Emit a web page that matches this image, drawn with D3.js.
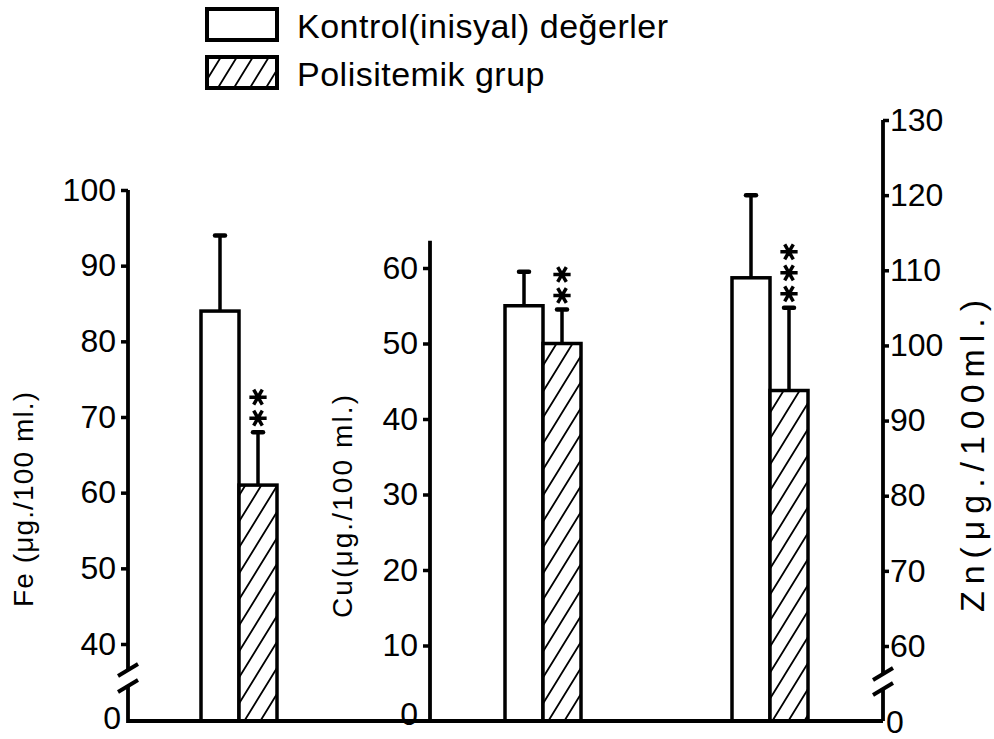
<!DOCTYPE html>
<html>
<head>
<meta charset="utf-8">
<script src="https://cdn.jsdelivr.net/npm/d3@7"></script>
<style>
  body { margin: 0; background: #fff; }
  svg { display: block; font-family: "Liberation Sans", Arial, sans-serif; }
</style>
</head>
<body>
<svg id="chart"></svg>
<script>
// values (means and top of the SD whisker)
const minerals = ["Fe", "Cu", "Zn"];
const kontrolMeans = [84, 55, 109];
const kontrolUpper = [94, 59.5, 120];
const polisitemikMeans = [61, 50, 94];
const polisitemikUpper = [68, 54.5, 105];
const significance = ["**", "**", "***"];
const seriesNames = ["Kontrol(inisyal) değerler", "Polisitemik grup"];
const feTicks = [40, 50, 60, 70, 80, 90, 100];
const cuTicks = [10, 20, 30, 40, 50, 60];
const znTicks = [60, 70, 80, 90, 100, 110, 120, 130];
const axisTitles = ["Fe (μg./100 ml.)", "Cu(μg./100 ml.)", "Zn(μg./100ml.)"];

const width = 994;
const height = 739;
const baseY = 721;

const svg = d3.select("#chart").attr("width", width).attr("height", height);

// each mineral has its own y axis; Fe and Zn are broken above zero
const yScales = {
  Fe: d3.scaleLinear().domain([0, 40, 100]).range([baseY, 644, 190]),
  Cu: d3.scaleLinear().domain([0, 60]).range([baseY, 268]),
  Zn: d3.scaleLinear().domain([0, 60, 130]).range([baseY, 646, 120]),
};
const axisX = { Fe: 128, Cu: 430, Zn: 883 };
const groupX = d3.scaleOrdinal().domain(minerals).range([239, 543, 770]);
const seriesX = d3
  .scaleBand()
  .domain(["kontrol", "polisitemik"])
  .range([-38, 38]);

const rows = [];
minerals.forEach((m, i) => {
  rows.push({ mineral: m, series: "kontrol", mean: kontrolMeans[i], upper: kontrolUpper[i], stars: "" });
  rows.push({ mineral: m, series: "polisitemik", mean: polisitemikMeans[i], upper: polisitemikUpper[i], stars: significance[i] });
});

// hatch pattern
const defs = svg.append("defs");
const hatch = defs
  .append("pattern")
  .attr("id", "hatch")
  .attr("patternUnits", "userSpaceOnUse")
  .attr("width", 16)
  .attr("height", 26);
hatch.append("rect").attr("width", 16).attr("height", 26).attr("fill", "#fff");
hatch
  .append("path")
  .attr("d", "M-2,3.25L2,-3.25M-2,29.25L18,-3.25M14,29.25L18,22.75")
  .attr("stroke", "#000")
  .attr("stroke-width", 1.8);

// legend
const legend = svg.append("g");
legend
  .selectAll("rect")
  .data(seriesNames)
  .join("rect")
  .attr("x", 207)
  .attr("y", (d, i) => 9 + i * 48)
  .attr("width", 70)
  .attr("height", 31)
  .attr("fill", (d, i) => (i === 0 ? "#fff" : "url(#hatch)"))
  .attr("stroke", "#000")
  .attr("stroke-width", 4);
legend
  .selectAll("text")
  .data(seriesNames)
  .join("text")
  .attr("x", 297)
  .attr("y", (d, i) => 38 + i * 48)
  .attr("font-size", 34)
  .attr("letter-spacing", 0.5)
  .text((d) => d);

// bars
const bars = svg.append("g");
const barX = (d) => groupX(d.mineral) + seriesX(d.series);
const barY = (d) => yScales[d.mineral](d.mean);

bars
  .selectAll("line.err")
  .data(rows)
  .join("line")
  .attr("class", "err")
  .attr("x1", (d) => barX(d) + seriesX.bandwidth() / 2)
  .attr("x2", (d) => barX(d) + seriesX.bandwidth() / 2)
  .attr("y1", barY)
  .attr("y2", (d) => yScales[d.mineral](d.upper))
  .attr("stroke", "#000")
  .attr("stroke-width", 3.5);

bars
  .selectAll("line.cap")
  .data(rows)
  .join("line")
  .attr("class", "cap")
  .attr("x1", (d) => barX(d) + seriesX.bandwidth() / 2 - 5)
  .attr("x2", (d) => barX(d) + seriesX.bandwidth() / 2 + 5)
  .attr("y1", (d) => yScales[d.mineral](d.upper))
  .attr("y2", (d) => yScales[d.mineral](d.upper))
  .attr("stroke", "#000")
  .attr("stroke-width", 4.5)
  .attr("stroke-linecap", "round");

bars
  .selectAll("rect")
  .data(rows)
  .join("rect")
  .attr("x", barX)
  .attr("y", barY)
  .attr("width", seriesX.bandwidth())
  .attr("height", (d) => baseY - barY(d))
  .attr("fill", (d) => (d.series === "kontrol" ? "#fff" : "url(#hatch)"))
  .attr("stroke", "#000")
  .attr("stroke-width", 3.5);

// significance asterisks above the whisker
const asterisk = d3.symbol(d3.symbolAsterisk, 210);
const starData = rows.flatMap((d) =>
  d3.range(d.stars.length).map((k) => ({ row: d, k }))
);
bars
  .selectAll("path.star")
  .data(starData)
  .join("path")
  .attr("class", "star")
  .attr("d", asterisk)
  .attr(
    "transform",
    (s) =>
      `translate(${barX(s.row) + seriesX.bandwidth() / 2},${
        yScales[s.row.mineral](s.row.upper) - 14 - s.k * 21
      }) rotate(90)`
  )
  .attr("fill", "none")
  .attr("stroke", "#000")
  .attr("stroke-width", 3.5);

// axes
const styleAxis = (g) => {
  g.select(".domain").remove();
  g.selectAll(".tick line").attr("stroke", "#000").attr("stroke-width", 3.5);
  g.selectAll(".tick text").attr("fill", "#000").attr("font-size", 32);
  g.attr("font-family", null);
};

svg
  .append("g")
  .attr("transform", `translate(${axisX.Fe},0)`)
  .call(d3.axisLeft(yScales.Fe).tickValues(feTicks).tickSize(7).tickPadding(5))
  .call(styleAxis);
svg
  .append("g")
  .attr("transform", `translate(${axisX.Cu},0)`)
  .call(d3.axisLeft(yScales.Cu).tickValues(cuTicks).tickSize(7).tickPadding(5))
  .call(styleAxis);
svg
  .append("g")
  .attr("transform", `translate(${axisX.Zn},0)`)
  .call(d3.axisRight(yScales.Zn).tickValues(znTicks).tickSize(6).tickPadding(1))
  .call(styleAxis);

// axis lines with the breaks drawn by hand
const lines = svg
  .append("g")
  .attr("fill", "none")
  .attr("stroke", "#000")
  .attr("stroke-width", 3.8);
lines.append("path").attr("d", `M${axisX.Fe},${yScales.Fe(100)}V${baseY - 50}M${axisX.Fe},${baseY - 34}V${baseY}H${axisX.Zn}`);
lines.append("path").attr("d", `M${axisX.Cu},${yScales.Cu(63.6)}V${baseY}`);
lines.append("path").attr("d", `M${axisX.Zn},${yScales.Zn(130)}V${baseY - 47}M${axisX.Zn},${baseY - 31}V${baseY}`);

const breakMarks = [
  [axisX.Fe, baseY - 51],
  [axisX.Fe, baseY - 35],
  [axisX.Zn, baseY - 47],
  [axisX.Zn, baseY - 32],
];
lines
  .selectAll("line")
  .data(breakMarks)
  .join("line")
  .attr("x1", (d) => d[0] - 10)
  .attr("y1", (d) => d[1] + 6)
  .attr("x2", (d) => d[0] + 10)
  .attr("y2", (d) => d[1] - 6);

// zero labels under the breaks
const zeros = [
  { x: axisX.Fe - 7, y: baseY + 8, anchor: "end" },
  { x: axisX.Cu - 12, y: baseY + 4, anchor: "end" },
  { x: axisX.Zn + 3, y: baseY + 12, anchor: "start" },
];
svg
  .append("g")
  .selectAll("text")
  .data(zeros)
  .join("text")
  .attr("x", (d) => d.x)
  .attr("y", (d) => d.y)
  .attr("text-anchor", (d) => d.anchor)
  .attr("font-size", 32)
  .text("0");

// rotated axis titles
const titlePos = [
  { x: 33, y: 607, len: 215, size: 28 },
  { x: 352, y: 618, len: 223, size: 28 },
  { x: 984, y: 612, len: 312, size: 34 },
];
svg
  .append("g")
  .selectAll("text")
  .data(axisTitles)
  .join("text")
  .attr("transform", (d, i) => `translate(${titlePos[i].x},${titlePos[i].y}) rotate(-90)`)
  .attr("font-size", (d, i) => titlePos[i].size)
  .attr("textLength", (d, i) => titlePos[i].len)
  .attr("lengthAdjust", "spacing")
  .text((d) => d);
</script>
</body>
</html>
